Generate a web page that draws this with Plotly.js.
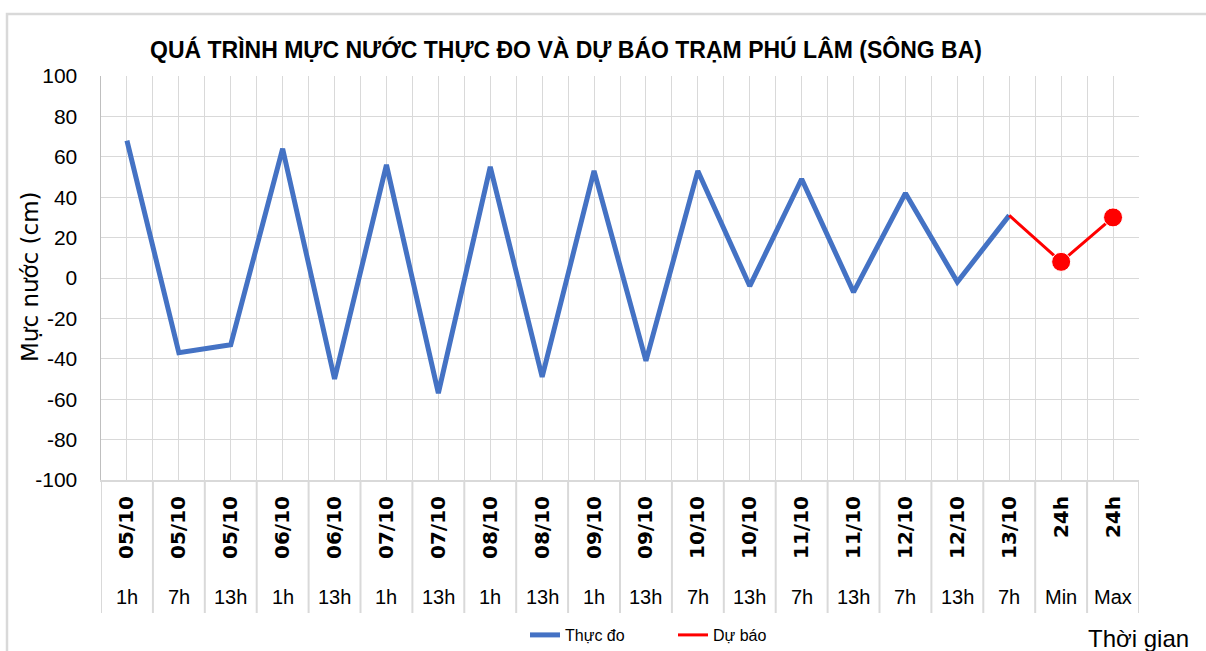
<!DOCTYPE html>
<html>
<head>
<meta charset="utf-8">
<script src="https://cdn.plot.ly/plotly-3.0.1.min.js"></script>
<style>html,body{margin:0;padding:0;background:#fff;}#chart{width:1206px;height:651px;}</style>
</head>
<body>
<div id="chart"></div>
<script>
// ---- data ----
const dateLabels = ['05/10','05/10','05/10','06/10','06/10','07/10','07/10','08/10','08/10','09/10','09/10','10/10','10/10','11/10','11/10','12/10','12/10','13/10','24h','24h'];
const hourLabels = ['1h','7h','13h','1h','13h','1h','13h','1h','13h','1h','13h','7h','13h','7h','13h','7h','13h','7h','Min','Max'];
const observed = [68, -37, -33, 64, -50, 56, -57, 55, -49, 53, -41, 53, -4, 49, -7, 42, -2, 31, null, null];
const forecast = [null, null, null, null, null, null, null, null, null, null, null, null, null, null, null, null, null, 31, 8, 30];
const seriesNames = ['Thực đo', 'Dự báo'];
const yTickValues = [-100, -80, -60, -40, -20, 0, 20, 40, 60, 80, 100];
const chartTitle = 'QUÁ TRÌNH MỰC NƯỚC THỰC ĐO VÀ DỰ BÁO TRẠM PHÚ LÂM (SÔNG BA)';
const yTitle = 'Mực nước (cm)';
const xTitle = 'Thời gian';

// ---- geometry helpers (layout only) ----
const W = 1206, H = 651;
const PL = 101, PR = 1139, PT = 76, PB = 480;
const plotW = PR - PL, plotH = PB - PT;
const px2x = p => (p - PL) / plotW;
const py2y = p => (PB - p) / plotH;

const idx = dateLabels.map((_, i) => i);
const bounds = [];
for (let i = 0; i <= dateLabels.length; i++) bounds.push(i - 0.5);

const grid = '#d9d9d9';
const sans = 'Liberation Sans, Arial, sans-serif';

const traces = [
  {
    x: idx, y: observed, name: seriesNames[0], type: 'scatter', mode: 'lines',
    line: {color: '#4472C4', width: 5},
    connectgaps: false, hoverinfo: 'skip'
  },
  {
    x: idx, y: forecast, name: seriesNames[1], type: 'scatter', mode: 'lines',
    line: {color: '#FF0000', width: 3},
    connectgaps: false, hoverinfo: 'skip'
  },
  {
    x: idx, y: forecast, name: seriesNames[1], type: 'scatter', mode: 'markers',
    marker: {color: '#FF0000', opacity: 1, size: forecast.map((v, i) => (i === 17 ? 0 : 19))},
    showlegend: false, hoverinfo: 'skip'
  }
];

const shapes = [];
// table lines under the plot
bounds.forEach(b => {
  shapes.push({type: 'line', xref: 'x', yref: 'paper', x0: b, x1: b, y0: 0, y1: py2y(613),
    line: {color: grid, width: 2}, layer: 'below'});
});
// outer chart border
shapes.push({type: 'rect', xref: 'paper', yref: 'paper',
  x0: px2x(7), x1: px2x(1230), y0: py2y(680), y1: py2y(14),
  line: {color: '#d9d9d9', width: 2.5}, layer: 'below'});

const annotations = hourLabels.map((h, i) => ({
  x: i, xref: 'x', y: py2y(597), yref: 'paper', text: h, showarrow: false,
  xanchor: 'center', yanchor: 'middle', font: {family: sans, size: 20, color: '#000'}
}));
annotations.push({
  x: px2x(30), xref: 'paper', y: py2y(277), yref: 'paper', text: yTitle, showarrow: false,
  textangle: -90, xanchor: 'center', yanchor: 'middle',
  font: {family: 'DejaVu Sans, sans-serif', size: 23, color: '#000'}
});
annotations.push({
  x: px2x(1138), xref: 'paper', y: py2y(638), yref: 'paper', text: xTitle, showarrow: false,
  xanchor: 'center', yanchor: 'middle', font: {family: sans, size: 24, color: '#000'}
});

const layout = {
  width: W, height: H,
  margin: {l: PL, r: W - PR, t: PT, b: H - PB, pad: 0, autoexpand: false},
  paper_bgcolor: '#fff', plot_bgcolor: '#fff',
  showlegend: true,
  title: {text: '<b>' + chartTitle + '</b>', x: 566 / W, xanchor: 'center', xref: 'container',
    y: 1 - 50 / H, yanchor: 'middle', yref: 'container',
    font: {family: sans, size: 23, color: '#000'}},
  xaxis: {
    range: [-0.5, dateLabels.length - 0.5], tickmode: 'array', tickvals: idx, ticktext: dateLabels,
    tickangle: -90, tickfont: {family: 'DejaVu Sans, sans-serif', size: 20, color: '#000', weight: 'bold'},
    ticks: '', ticklabelstandoff: 6, automargin: false,
    showgrid: true, gridcolor: grid, gridwidth: 1,
    minor: {tickmode: 'array', tickvals: bounds, showgrid: true, gridcolor: grid, gridwidth: 1, ticks: ''},
    showline: true, linecolor: grid, linewidth: 2, zeroline: false, fixedrange: true
  },
  yaxis: {
    range: [-100, 100], tickmode: 'array', tickvals: yTickValues, ticktext: yTickValues.map(v => String(v)),
    tickfont: {family: sans, size: 21, color: '#000'},
    ticks: '', ticklabelstandoff: 18, automargin: false,
    showgrid: true, gridcolor: grid, gridwidth: 1,
    showline: true, linecolor: '#bfbfbf', linewidth: 1.5, zeroline: false, fixedrange: true
  },
  legend: {orientation: 'h', x: px2x(525), xanchor: 'left', y: py2y(635), yanchor: 'middle',
    font: {family: sans, size: 16, color: '#000'}, entrywidth: 103, entrywidthmode: 'pixels',
    bgcolor: 'rgba(0,0,0,0)'},
  shapes: shapes,
  annotations: annotations
};

Plotly.newPlot('chart', traces, layout, {displayModeBar: false, staticPlot: true});
</script>
</body>
</html>
